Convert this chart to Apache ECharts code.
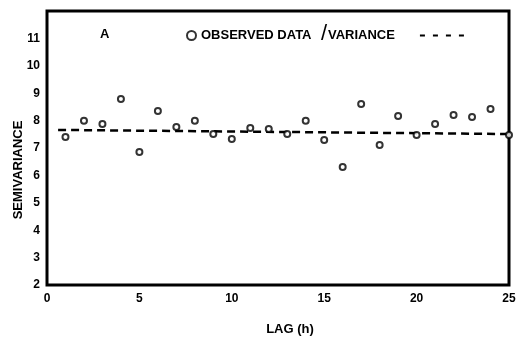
<!DOCTYPE html>
<html>
<head>
<meta charset="utf-8">
<script src="https://cdn.jsdelivr.net/npm/echarts@6/dist/echarts.min.js"></script>
<style>
html,body{margin:0;padding:0;background:#fff;}
#chart{width:519px;height:343px;}
</style>
</head>
<body>
<div id="chart"></div>
<script>
var lags = [1,2,3,4,5,6,7,8,9,10,11,12,13,14,15,16,17,18,19,20,21,22,23,24,25];
var observed = [7.40,7.99,7.88,8.79,6.85,8.35,7.77,7.99,7.51,7.33,7.73,7.69,7.51,7.99,7.29,6.31,8.61,7.11,8.17,7.47,7.88,8.20,8.13,8.42,7.47];
var varianceLags = [0.6, 25];
var varianceValues = [7.66, 7.51];
var xTicks = [0,5,10,15,20,25];
var yTicks = [2,3,4,5,6,7,8,9,10,11];

var FONT = '"Liberation Sans", Arial, sans-serif';
var chart = echarts.init(document.getElementById('chart'), null, {renderer:'canvas'});
var obsData = lags.map(function(l,i){return [l, observed[i]];});
var varData = varianceLags.map(function(l,i){return [l, varianceValues[i]];});

chart.setOption({
  animation:false,
  backgroundColor:'#fff',
  title:[
    {text:'A', left:95, top:23, textStyle:{fontFamily:FONT,fontSize:13,fontWeight:'bold',color:'#000'}},
    {text:'/', left:316, top:18, textStyle:{fontFamily:FONT,fontSize:22,fontWeight:'normal',color:'#000'}}
  ],
  legend:[
    {data:['OBSERVED DATA'], left:181, top:24, itemWidth:9, itemHeight:9, itemGap:5,
     textStyle:{fontFamily:FONT,fontSize:13,fontWeight:'bold',color:'#000'}},
    {data:['VARIANCE'], left:323, top:24, align:'right', itemWidth:44, itemHeight:9,
     textStyle:{fontFamily:FONT,fontSize:13,fontWeight:'bold',color:'#000',padding:[0,20,0,0]},
     itemStyle:{opacity:0},
     lineStyle:{type:[5,8],width:2,color:'#000'}}
  ],
  grid:{left:47,right:10,top:11,bottom:58,outerBoundsMode:'none',containLabel:false,
    show:true,borderColor:'#000',borderWidth:3,backgroundColor:'transparent'},
  xAxis:{
    type:'value', min:xTicks[0], max:xTicks[xTicks.length-1], interval:5,
    name:'LAG (h)', nameLocation:'middle', nameGap:38, nameMoveOverlap:false,
    nameTextStyle:{fontFamily:FONT,fontSize:13,fontWeight:'bold',color:'#000',padding:[0,0,0,24]},
    axisLine:{show:false}, axisTick:{show:false}, splitLine:{show:false},
    axisLabel:{fontFamily:FONT,fontSize:12,fontWeight:'bold',color:'#000',margin:8,
      formatter:function(v){return xTicks.indexOf(v)>=0?String(v):'';}}
  },
  yAxis:{
    type:'value', min:2, max:12, interval:1,
    name:'SEMIVARIANCE', nameLocation:'middle', nameGap:22, nameMoveOverlap:false,
    nameTextStyle:{fontFamily:FONT,fontSize:13,fontWeight:'bold',color:'#000',padding:[0,44,0,0]},
    axisLine:{show:false}, axisTick:{show:false}, splitLine:{show:false},
    axisLabel:{fontFamily:FONT,fontSize:12,fontWeight:'bold',color:'#000',margin:7,
      formatter:function(v){return yTicks.indexOf(v)>=0?String(v):'';}}
  },
  series:[
    {name:'VARIANCE', type:'line', data:varData, symbol:'none', z:2,
     lineStyle:{color:'#000',width:2.5,type:[8,5]}, itemStyle:{color:'#000'}},
    {name:'OBSERVED DATA', type:'scatter', data:obsData, symbol:'circle', symbolSize:6, z:3,
     itemStyle:{color:'#fff',borderColor:'#000',borderWidth:2}}
  ]
});
</script>
</body>
</html>
